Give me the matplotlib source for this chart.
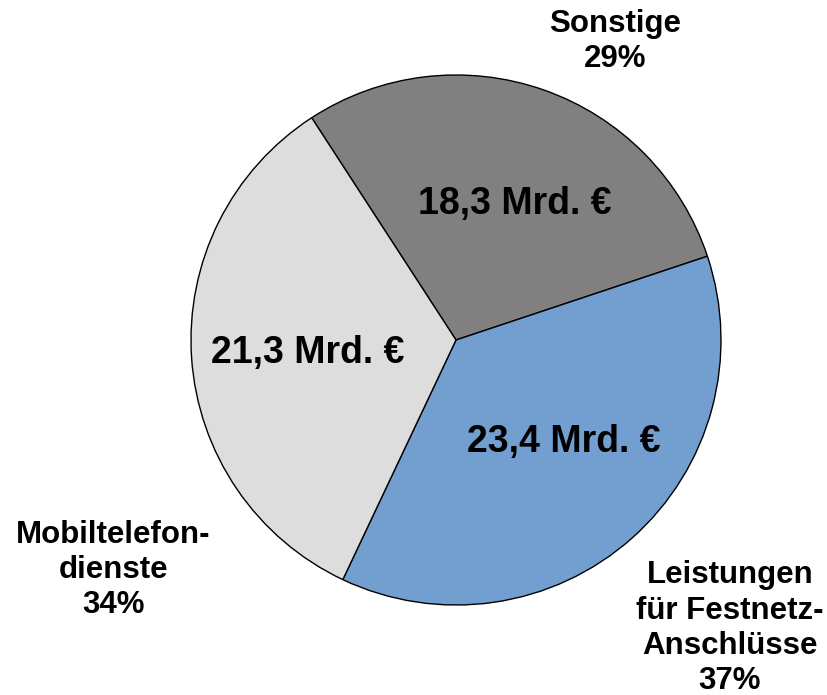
import numpy as np
import matplotlib.pyplot as plt

# Umsatzanteile (Mrd. Euro)
categories = ['Sonstige', 'Leistungen\nfür Festnetz-\nAnschlüsse', 'Mobiltelefon-\ndienste']
values = [18.3, 23.4, 21.3]
percents = ['29%', '37%', '34%']
colors = ['#808080', '#739fd0', '#dddddd']

plt.rcParams['font.family'] = ['Liberation Sans', 'DejaVu Sans']
plt.rcParams['font.weight'] = 'bold'

fig = plt.figure(figsize=(8.27, 6.95), dpi=100)
ax = fig.add_axes([0, 0, 1, 1])

# Kuchen: Mittelpunkt bei (456, 340) px, Radius 265 px
wedges, texts = ax.pie(values, colors=colors, startangle=123, counterclock=False,
                       radius=1.0, wedgeprops=dict(edgecolor='black', linewidth=1.0))

# Werte innerhalb der Segmente (kleine Winkelkorrektur wie im Original)
ang_shift = [-4, 5, 1]
for w, v, d in zip(wedges, values, ang_shift):
    ang = np.deg2rad((w.theta1 + w.theta2) / 2 + d)
    ax.text(0.56 * np.cos(ang), 0.56 * np.sin(ang), f'{v:.1f} Mrd. €'.replace('.', ',', 1),
            ha='center', va='center', fontsize=27, fontweight='bold')

# Beschriftungen außen
label_pos = [(0.60, 1.125), (1.034, -1.087), (-1.294, -0.868)]
for (x, y), name, pct in zip(label_pos, categories, percents):
    ax.text(x, y, name + '\n' + pct, ha='center', va='center',
            fontsize=22.5, fontweight='bold', linespacing=1.22)

ax.set_xlim(-456 / 265, (827 - 456) / 265)
ax.set_ylim(-(695 - 340) / 265, 340 / 265)
ax.set_aspect('equal')
ax.axis('off')

plt.savefig('out.png', dpi=100)
